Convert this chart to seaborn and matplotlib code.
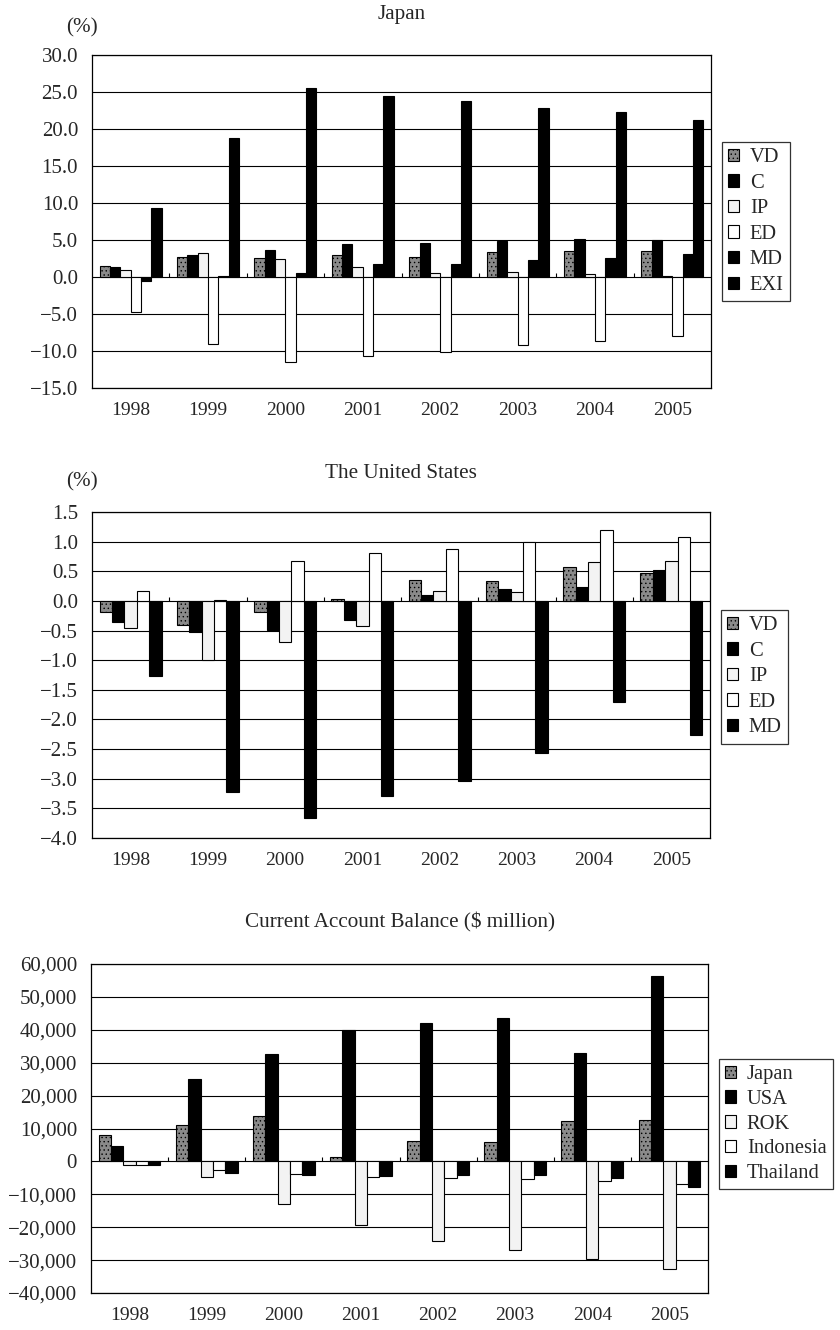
import numpy as np
import pandas as pd
import matplotlib
matplotlib.use("Agg")
import matplotlib.pyplot as plt
from matplotlib.ticker import FuncFormatter
import seaborn as sns

# ---- data -------------------------------------------------------------
years = ["1998", "1999", "2000", "2001", "2002", "2003", "2004", "2005"]

# Japan (%)
jp_vd = [1.5, 2.7, 2.6, 3.0, 2.7, 3.4, 3.5, 3.5]
jp_c = [1.4, 3.0, 3.7, 4.4, 4.6, 4.9, 5.1, 5.0]
jp_ip = [1.0, 3.2, 2.4, 1.3, 0.5, 0.7, 0.4, 0.2]
jp_ed = [-4.7, -9.1, -11.5, -10.7, -10.1, -9.2, -8.6, -8.0]
jp_md = [-0.6, 0.1, 0.5, 1.7, 1.8, 2.3, 2.6, 3.1]
jp_exi = [9.3, 18.8, 25.5, 24.5, 23.8, 22.9, 22.3, 21.2]

# The United States (%)
us_vd = [-0.19, -0.41, -0.18, 0.03, 0.35, 0.33, 0.57, 0.47]
us_c = [-0.36, -0.52, -0.49, -0.32, 0.10, 0.20, 0.23, 0.52]
us_ip = [-0.45, -0.99, -0.69, -0.42, 0.17, 0.15, 0.66, 0.67]
us_ed = [0.17, 0.02, 0.68, 0.80, 0.88, 1.00, 1.19, 1.07]
us_md = [-1.27, -3.22, -3.66, -3.29, -3.03, -2.57, -1.70, -2.27]

# Current account balance ($ million)
ca_japan = [7900, 11000, 13900, 1200, 6300, 5900, 12400, 12700]
ca_usa = [4700, 25000, 32600, 39800, 42000, 43500, 33100, 56300]
ca_rok = [-1000, -4800, -13000, -19300, -24300, -27000, -29700, -32700]
ca_indonesia = [-1200, -2500, -3900, -4800, -5000, -5500, -6000, -6800]
ca_thailand = [-1000, -3600, -4200, -4300, -4000, -4000, -5100, -7800]

# ---- style ------------------------------------------------------------
sns.set_style("white")
plt.rcParams["font.family"] = ["Liberation Serif", "DejaVu Serif"]
plt.rcParams["hatch.linewidth"] = 0.5
FS_Y = 15.0      # value axis labels
FS_X = 14.0      # year labels
FS_TITLE = 15.2
FS_LEG = 14.8

# fill styles per series kind
STYLE = {
    "gray": dict(face="#8a8a8a", hatch="...."),
    "black": dict(face="#000000", hatch=None),
    "dots": dict(face="#f3f3f3", hatch=None),
    "white": dict(face="#ffffff", hatch=None),
}

W, H = 840, 1330
fig = plt.figure(figsize=(W / 100, H / 100), dpi=100)


def frame(left, top, right, bottom):
    return fig.add_axes([left / W, 1 - bottom / H, (right - left) / W, (bottom - top) / H])


def panel(ax, series, kinds, ylim, step, fmt, legend_xy, spacing, title, title_y, pct_y=None):
    names = list(series.keys())
    df = pd.DataFrame(
        [(y, n, v) for n in names for y, v in zip(years, series[n])],
        columns=["year", "series", "value"],
    )
    palette = {n: STYLE[k]["face"] for n, k in zip(names, kinds)}
    sns.barplot(
        data=df, x="year", y="value", hue="series", hue_order=names,
        order=years, palette=palette, saturation=1, width=0.8, gap=0,
        edgecolor="black", linewidth=0.8,
        errorbar=None, legend=False, ax=ax,
    )
    for cont, k in zip(ax.containers, kinds):
        for p in cont.patches:
            if STYLE[k]["hatch"]:
                p.set_hatch(STYLE[k]["hatch"])
        cont.set_label(None)

    ax.set_ylim(*ylim)
    ax.set_xlim(-0.5, len(years) - 0.5)
    ticks = np.arange(ylim[0], ylim[1] + step / 2, step)
    ax.set_yticks(ticks)
    ax.yaxis.set_major_formatter(FuncFormatter(fmt))
    ax.set_xlabel("")
    ax.set_ylabel("")
    ax.grid(False)
    for t in ticks:
        ax.axhline(t, color="black", lw=0.8, zorder=0.5)
    for s in ax.spines.values():
        s.set_visible(True)
        s.set_color("black")
        s.set_linewidth(0.9)
    ax.tick_params(axis="y", length=0, pad=10, labelsize=FS_Y)
    ax.tick_params(axis="x", length=0, pad=10, labelsize=FS_X)

    # category tick marks sitting on the zero line
    bbox = ax.get_position()
    px_h = bbox.height * H
    th = (ylim[1] - ylim[0]) * 4 / px_h
    ax.vlines(np.arange(0.5, len(years) - 0.5), 0, th, color="black", lw=0.8, zorder=3)

    leg = ax.legend(
        handles=list(ax.containers), labels=names,
        loc="upper left", bbox_to_anchor=(legend_xy[0] / W, 1 - legend_xy[1] / H),
        bbox_transform=fig.transFigure, frameon=True, fancybox=False,
        edgecolor="black", fontsize=FS_LEG, handlelength=0.55, handleheight=0.55,
        handletextpad=0.5, labelspacing=spacing, borderpad=0.3, borderaxespad=0,
    )
    leg.get_frame().set_linewidth(0.9)

    cx = (bbox.x0 + bbox.x1) / 2
    fig.text(cx, 1 - title_y / H, title, ha="center", va="center", fontsize=FS_TITLE)
    if pct_y is not None:
        fig.text(82 / W, 1 - pct_y / H, "(%)", ha="center", va="center", fontsize=FS_TITLE)


def fmt1(v, _):
    return f"{v:.1f}".replace("-", "\u2212")


def fmt_thousands(v, _):
    return f"{v:,.0f}".replace("-", "\u2212")


ax1 = frame(92, 55, 711, 388)
panel(
    ax1,
    {"VD": jp_vd, "C": jp_c, "IP": jp_ip, "ED": jp_ed, "MD": jp_md, "EXI": jp_exi},
    ["gray", "black", "dots", "white", "black", "black"],
    (-15, 30), 5, fmt1, (722, 142), 0.32, "Japan", 15, pct_y=28,
)

ax2 = frame(92, 512, 710, 838)
panel(
    ax2,
    {"VD": us_vd, "C": us_c, "IP": us_ip, "ED": us_ed, "MD": us_md},
    ["gray", "black", "dots", "white", "black"],
    (-4.0, 1.5), 0.5, fmt1, (721, 610), 0.32, "The United States", 473, pct_y=482,
)

ax3 = frame(91, 964, 708, 1293)
panel(
    ax3,
    {"Japan": ca_japan, "USA": ca_usa, "ROK": ca_rok,
     "Indonesia": ca_indonesia, "Thailand": ca_thailand},
    ["gray", "black", "dots", "white", "black"],
    (-40000, 60000), 10000, fmt_thousands, (719, 1059), 0.28,
    "Current Account Balance ($ million)", 922,
)

fig.savefig("out.png", dpi=100, facecolor="white")
